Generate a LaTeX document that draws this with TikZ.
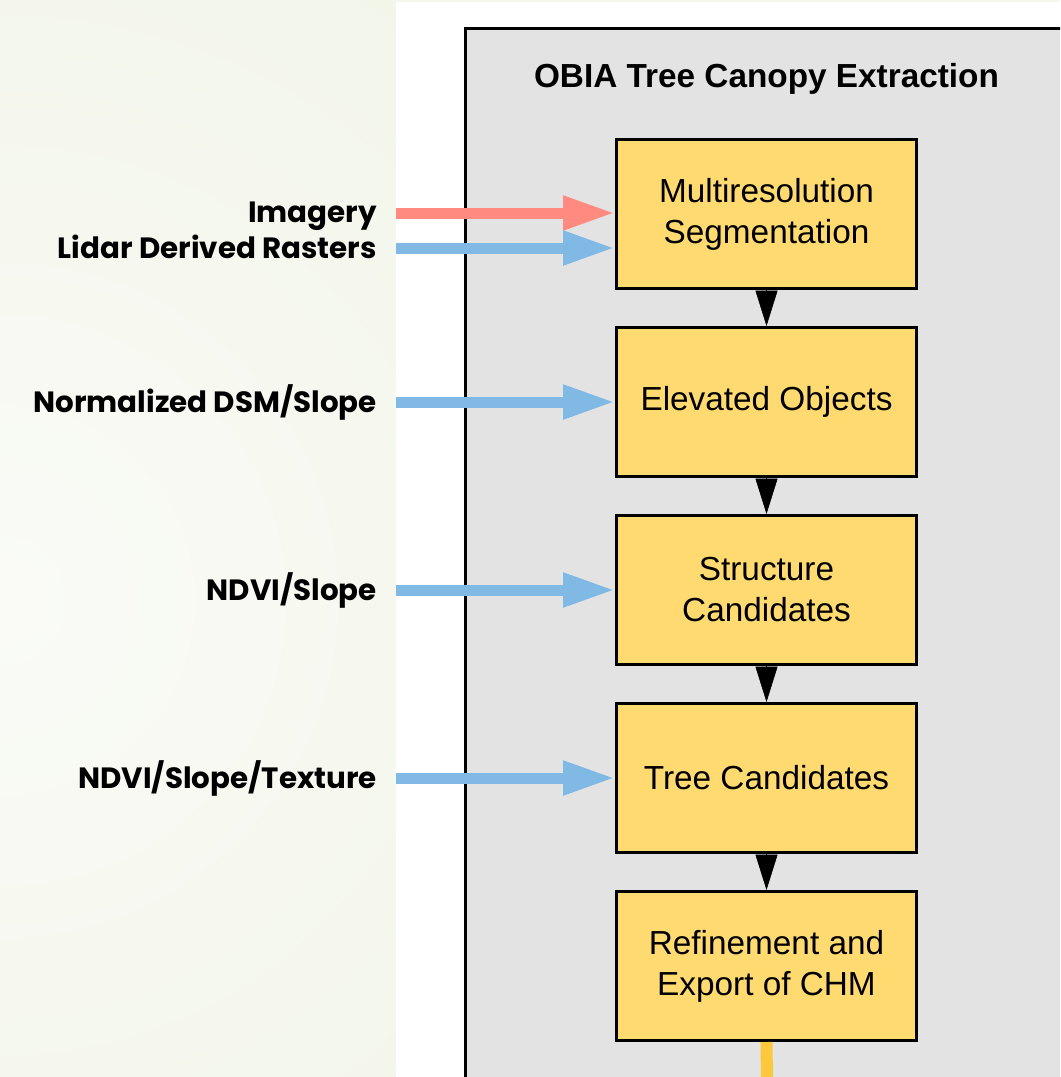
\documentclass[tikz,border=0pt]{standalone}
\usepackage{fontspec}
\setmainfont{Liberation Sans}
\newfontfamily\labelfont{Poppins}
\usetikzlibrary{arrows.meta}
\definecolor{bgwhite}{RGB}{250,251,247}
\definecolor{bggreen}{RGB}{236,241,222}
\definecolor{panelgray}{RGB}{227,227,227}
\definecolor{boxyellow}{RGB}{255,218,112}
\definecolor{arrpink}{RGB}{255,138,128}
\definecolor{arrblue}{RGB}{128,185,228}
\definecolor{lineorange}{RGB}{253,200,60}
\tikzset{
  stepbox/.style={draw=black, line width=2.25pt, fill=boxyellow, minimum width=225pt,
    minimum height=111.75pt, align=center, inner sep=0pt,
    font=\fontsize{25}{30.75}\selectfont},
  inlabel/.style={anchor=base east, inner sep=0pt, font=\labelfont\bfseries\fontsize{22}{26}\selectfont},
  inarrow/.style={line width=8.25pt, -{Triangle[length=39pt,width=24pt]}},
  flow/.style={line width=0.4pt, -{Triangle[length=26.5pt,width=16.5pt]}}
}
\begin{document}
\begin{tikzpicture}[x=0.75pt,y=-0.75pt]
\clip (0,0) rectangle (1060,1077);
% background
\begin{scope}
\clip (0,0) rectangle (396,1077);
\shade[inner color=bgwhite, outer color=bggreen] (0,600) circle (1300);
\end{scope}
\fill[bggreen!60!white] (396,0) rectangle (1060,2);
\fill[white] (396,2) rectangle (1060,1077);
% panel
\draw[line width=2.25pt, fill=panelgray] (465.5,29) rectangle (1080,1100);
\node[font=\bfseries\fontsize{25}{30}\selectfont, anchor=base] (title) at (766.5,88) {OBIA Tree Canopy Extraction};
% boxes
\node[stepbox] (b1) at (766.5,214) {Multiresolution\\Segmentation};
\node[stepbox] (b2) at (766.5,402) {Elevated Objects};
\node[stepbox] (b3) at (766.5,590) {Structure\\Candidates};
\node[stepbox] (b4) at (766.5,778) {Tree Candidates};
\node[stepbox] (b5) at (766.5,966) {Refinement and\\Export of CHM};
% flow arrows
\draw[flow] (b1.south) -- (b2.north);
\draw[flow] (b2.south) -- (b3.north);
\draw[flow] (b3.south) -- (b4.north);
\draw[flow] (b4.south) -- (b5.north);
\coordinate (out) at (767,1080);
\draw[lineorange, line width=9pt] (b5.south) -- (out);
% labels
\node[inlabel] (l1) at (377,222) {Imagery};
\node[inlabel] (l2) at (377,258) {Lidar Derived Rasters};
\node[inlabel] (l3) at (377,412) {Normalized DSM/Slope};
\node[inlabel] (l4) at (377,600) {NDVI/Slope};
\node[inlabel] (l5) at (377,788) {NDVI/Slope/Texture};
% input arrows
\coordinate (s1) at (396,213);
\coordinate (s2) at (396,248);
\coordinate (s3) at (396,402);
\coordinate (s4) at (396,590);
\coordinate (s5) at (396,778);
\draw[inarrow, arrpink] (s1) -- (s1 -| b1.west);
\draw[inarrow, arrblue] (s2) -- (s2 -| b1.west);
\draw[inarrow, arrblue] (s3) -- (s3 -| b2.west);
\draw[inarrow, arrblue] (s4) -- (s4 -| b3.west);
\draw[inarrow, arrblue] (s5) -- (s5 -| b4.west);
\end{tikzpicture}
\end{document}
